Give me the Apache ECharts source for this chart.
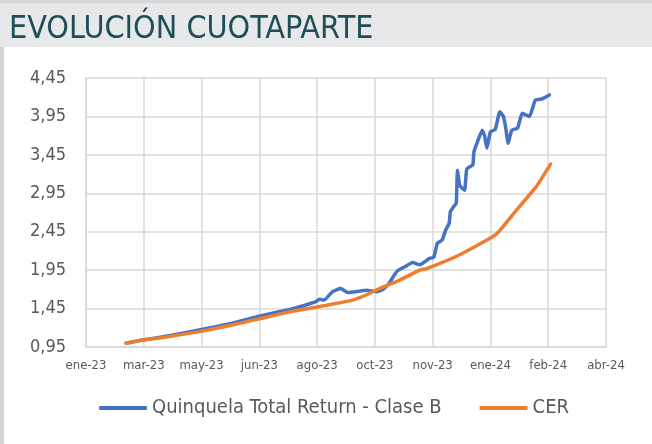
<!DOCTYPE html>
<html>
<head>
<meta charset="utf-8">
<script src="https://cdn.jsdelivr.net/npm/echarts@6/dist/echarts.min.js"></script>
<style>
  html, body { margin: 0; padding: 0; background: #fff; }
  #chart { width: 652px; height: 444px; }
</style>
</head>
<body>
<div id="chart"></div>
<script>
// Quinquela Total Return - Clase B (fecha, valor)
let fundDates = [
  '2023-03-05', '2023-03-19', '2023-04-08', '2023-05-06', '2023-06-03', '2023-06-26',
  '2023-07-22', '2023-08-03', '2023-08-13', '2023-08-16', '2023-08-20', '2023-08-27',
  '2023-09-03', '2023-09-09', '2023-09-16', '2023-09-25', '2023-10-03', '2023-10-09',
  '2023-10-14', '2023-10-21', '2023-10-27', '2023-11-03', '2023-11-09', '2023-11-17',
  '2023-11-21', '2023-11-24', '2023-11-28', '2023-12-01', '2023-12-04', '2023-12-05',
  '2023-12-08', '2023-12-10', '2023-12-11', '2023-12-13', '2023-12-17', '2023-12-19',
  '2023-12-24', '2023-12-25', '2023-12-28', '2024-01-01', '2024-01-03', '2024-01-05',
  '2024-01-08', '2024-01-12', '2024-01-16', '2024-01-19', '2024-01-21', '2024-01-23',
  '2024-01-26', '2024-01-31', '2024-02-04', '2024-02-10', '2024-02-15', '2024-02-21',
  '2024-02-27'
]
let fundValues = [
  1.00, 1.04, 1.09, 1.17, 1.26, 1.35,
  1.44, 1.49, 1.54, 1.57, 1.56, 1.67,
  1.71, 1.66, 1.67, 1.69, 1.67, 1.70,
  1.78, 1.94, 1.99, 2.05, 2.02, 2.10,
  2.12, 2.30, 2.34, 2.47, 2.56, 2.71,
  2.78, 2.82, 3.25, 3.05, 2.99, 3.27,
  3.32, 3.49, 3.62, 3.77, 3.70, 3.54,
  3.75, 3.78, 4.01, 3.95, 3.80, 3.60,
  3.77, 3.80, 3.99, 3.95, 4.16, 4.18,
  4.23
]

// CER (fecha, valor)
let cerDates = [
  '2023-03-05', '2023-03-19', '2023-04-08', '2023-05-06', '2023-06-04', '2023-06-27',
  '2023-07-19', '2023-08-14', '2023-09-13', '2023-09-25', '2023-10-03', '2023-10-23',
  '2023-11-09', '2023-11-15', '2023-12-13', '2024-01-13', '2024-01-30', '2024-02-16',
  '2024-02-28'
]
let cerValues = [
  1.00, 1.04, 1.08, 1.15, 1.24, 1.32,
  1.40, 1.47, 1.56, 1.63, 1.69, 1.82,
  1.95, 1.97, 2.15, 2.42, 2.73, 3.04,
  3.33
]

let yTicks = { min: 0.95, max: 4.45, step: 0.5 }
let monthNames = ['ene', 'feb', 'mar', 'abr', 'may', 'jun', 'jul', 'ago', 'sep', 'oct', 'nov', 'dic']

const DAY = 86400000
let xStart = Date.UTC(2023, 0, 30)   // primer tick del eje
let xStep = 49 * DAY                 // unidad mayor del eje (49 días)

function toTime(s) {
  let p = s.split('-')
  return Date.UTC(+p[0], +p[1] - 1, +p[2])
}
function pairs(dates, values) {
  return dates.map((d, i) => [toTime(d), values[i]])
}

let font = "'DejaVu Sans Condensed', 'DejaVu Sans', sans-serif"
let gridColor = '#d9d9d9'
let textColor = '#595959'

let chart = echarts.init(document.getElementById('chart'))
let option = {
  animation: false,
  backgroundColor: '#fff',
  textStyle: { fontFamily: font },
  graphic: [
    // franja gris del título
    { type: 'rect', shape: { x: 0, y: 0, width: 652, height: 47 }, style: { fill: '#e7e8ea' }, silent: true },
    { type: 'rect', shape: { x: 0, y: 0, width: 652, height: 3 }, style: { fill: '#d6d7d9' }, silent: true },
    // borde izquierdo del recuadro
    { type: 'rect', shape: { x: 0, y: 47, width: 4, height: 397 }, style: { fill: '#d3d4d6' }, silent: true }
  ],
  title: {
    text: 'EVOLUCIÓN CUOTAPARTE',
    left: 4,
    top: 9,
    textStyle: {
      fontFamily: font,
      fontSize: 32,
      fontWeight: 'normal',
      color: '#1f4e58'
    }
  },
  grid: {
    left: 86,
    right: 46,
    top: 78,
    bottom: 97
  },
  legend: {
    bottom: 21,
    left: 94,
    icon: 'roundRect',
    itemWidth: 48,
    itemHeight: 4,
    itemGap: 38,
    textStyle: { fontFamily: font, fontSize: 20, color: textColor },
    data: ['Quinquela Total Return - Clase B', 'CER']
  },
  xAxis: {
    type: 'value',
    min: xStart,
    max: xStart + 9 * xStep,
    interval: xStep,
    axisLine: { show: true, lineStyle: { color: gridColor, width: 1.5 } },
    axisTick: { show: false },
    splitLine: { show: true, lineStyle: { color: gridColor, width: 1.5 } },
    axisLabel: {
      margin: 12,
      fontSize: 13,
      color: textColor,
      fontFamily: font,
      formatter: (v) => {
        let d = new Date(v)
        return monthNames[d.getUTCMonth()] + '-' + String(d.getUTCFullYear()).slice(2)
      }
    }
  },
  yAxis: {
    type: 'value',
    min: yTicks.min,
    max: yTicks.max,
    interval: yTicks.step,
    axisLine: { show: true, lineStyle: { color: gridColor, width: 1.5 } },
    axisTick: { show: false },
    splitLine: { show: true, lineStyle: { color: gridColor, width: 1.5 } },
    axisLabel: {
      margin: 20,
      fontSize: 18,
      color: textColor,
      fontFamily: font,
      formatter: (v) => v.toFixed(2).replace('.', ',')
    }
  },
  series: [
    {
      name: 'Quinquela Total Return - Clase B',
      type: 'line',
      data: pairs(fundDates, fundValues),
      showSymbol: false,
      smooth: 0.15,
      itemStyle: { color: '#4472c4' },
      lineStyle: { width: 3.5, color: '#4472c4', cap: 'round', join: 'round' }
    },
    {
      name: 'CER',
      type: 'line',
      data: pairs(cerDates, cerValues),
      showSymbol: false,
      smooth: 0.15,
      itemStyle: { color: '#ed7d31' },
      lineStyle: { width: 3.5, color: '#ed7d31', cap: 'round', join: 'round' }
    }
  ]
}
chart.setOption(option)
</script>
</body>
</html>
